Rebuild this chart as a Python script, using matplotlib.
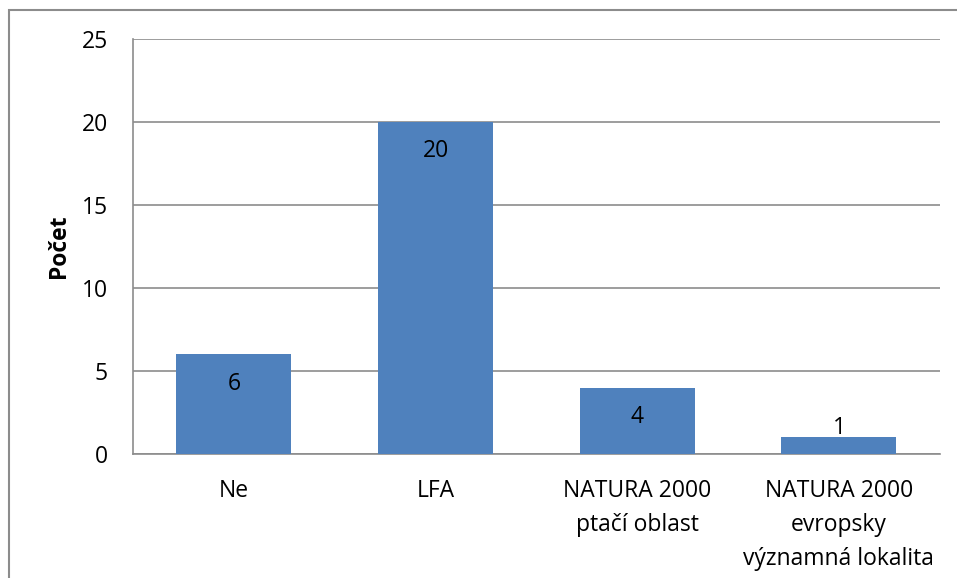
import matplotlib.pyplot as plt
from matplotlib.patches import Rectangle

categories = ["Ne", "LFA", "NATURA 2000\nptačí oblast", "NATURA 2000\nevropsky\nvýznamná lokalita"]
values = [6, 20, 4, 1]
yticks = [0, 5, 10, 15, 20, 25]

plt.rcParams["font.family"] = ["Open Sans", "DejaVu Sans"]
fs = 16.5

fig = plt.figure(figsize=(9.57, 5.78), dpi=100)
ax = fig.add_axes([0.139, 0.2145, 0.843, 0.718])

x = list(range(len(categories)))
ax.bar(x, values, width=0.57, color="#4F81BD", zorder=3)

ax.set_xlim(-0.5, len(categories) - 0.5)
ax.set_ylim(0, 25)
ax.set_yticks(yticks)
ax.set_xticks(x)
ax.set_xticklabels(categories, fontsize=fs, linespacing=1.56, va="top")
ax.tick_params(axis="both", length=0, labelsize=fs)
ax.tick_params(axis="x", pad=18)
ax.tick_params(axis="y", pad=18)
ax.yaxis.grid(True, color="#8c8c8c", linewidth=1.2, zorder=0)

for s in ["top", "right"]:
    ax.spines[s].set_visible(False)
for s in ["left", "bottom"]:
    ax.spines[s].set_color("#8c8c8c")
    ax.spines[s].set_linewidth(1.2)

ax.set_ylabel("Počet", fontsize=fs, fontweight="bold", labelpad=8)

for xi, v in zip(x, values):
    if v > 2:
        ax.annotate(str(v), (xi, v), xytext=(0, -21), textcoords="offset points",
                    ha="center", va="center", fontsize=fs)
    else:
        ax.annotate(str(v), (xi, v), xytext=(0, 7), textcoords="offset points",
                    ha="center", va="center", fontsize=fs)

fig.patches.append(Rectangle((9 / 957, -0.01), 1.02, 1 - 10 / 578 + 0.01,
                             transform=fig.transFigure, fill=False,
                             edgecolor="#8c8c8c", linewidth=1.5))

fig.savefig("out.png", dpi=100)
